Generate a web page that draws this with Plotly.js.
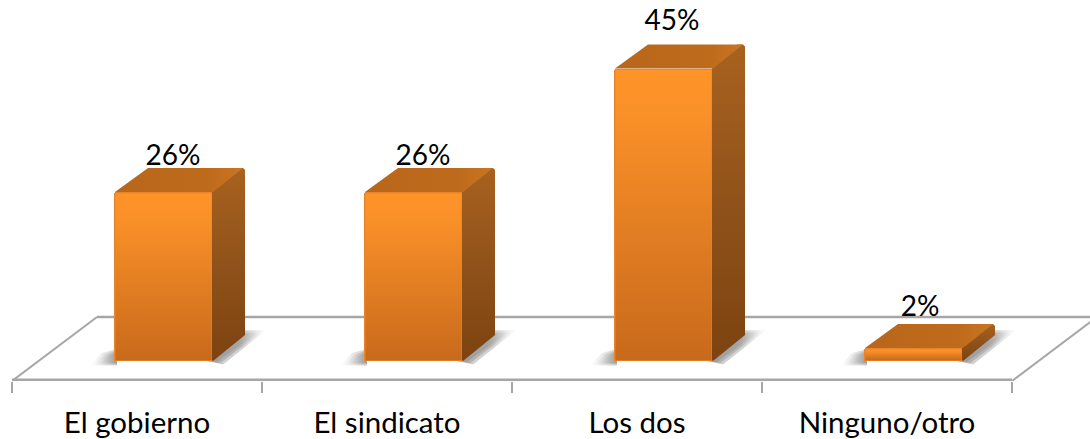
<!DOCTYPE html>
<html><head><meta charset="utf-8">
<script src="https://cdn.plot.ly/plotly-3.0.1.min.js"></script>
<style>html,body{margin:0;padding:0;background:#fff}</style></head>
<body><div id="chart" style="width:1090px;height:439px"></div>
<script>
const categories = ["El gobierno", "El sindicato", "Los dos", "Ninguno/otro"];
const values = [26, 26, 45, 2];
const labels = ["26%", "26%", "45%", "2%"];
const labelX = [0.144, 0.144, 0.14, 0.132];   // label offset from category centre
const labelY = [31.25, 31.25, 52.05, 8.05];   // label height on the value axis

const W = 250, H = 6.5;                       // pixels per category / per percent
const px = v => v / W, py = v => v / H;
const barLeft = px(-23), barW = px(99);
const depX = px(32), depY = py(24);
const floorDX = px(85), floorDY = py(64);
const floorFront = py(-20);
const floorL = -0.5, floorR = 3.5;
const xRange = [floorL, floorL + px(1078)], yRange = [floorFront, py(361)];

const grey = "#A6A6A6";
const traces = [];
const base = {type:"scatter", mode:"lines", hoverinfo:"skip", showlegend:false};

// floor
traces.push({...base, x:[floorL+floorDX, floorR+floorDX], y:[floorFront+floorDY, floorFront+floorDY], line:{color:grey, width:2.5}});
traces.push({...base, x:[floorL, floorL+floorDX], y:[floorFront, floorFront+floorDY], line:{color:grey, width:2}});
traces.push({...base, x:[floorR, floorR+floorDX], y:[floorFront, floorFront+floorDY], line:{color:grey, width:2}});
traces.push({...base, x:[floorL, floorR], y:[floorFront, floorFront], line:{color:grey, width:5}});

// soft shadows on the floor, built up from nested layers
values.forEach((v,i)=>{
  const l = i+barLeft, r = l+barW;
  [6,3,0].forEach(s=>{
    traces.push({...base, line:{width:0}, fill:"toself",
      x:[l-px(14+s*1.6), l+px(3), l+px(3), l-px(6+s)], y:[py(-2-s*0.4), py(-2-s*0.4), py(9+s*0.5), py(5+s*0.5)],
      fillgradient:{type:"horizontal", colorscale:[[0,"rgba(150,150,150,0)"],[1,"rgba(130,130,130,0.4)"]]}});
    traces.push({...base, line:{width:0}, fill:"toself",
      x:[r-px(6), r+depX, r+depX+px(12+s*1.6), r+px(4+s)], y:[py(0), depY+py(4+s*0.5), depY+py(4+s*0.5), py(-1-s*0.4)],
      fillgradient:{type:"horizontal", colorscale:[[0,"rgba(130,130,130,0.4)"],[0.6,"rgba(130,130,130,0.35)"],[1,"rgba(150,150,150,0)"]]}});
  });
});

// front faces: the bars themselves
traces.push({type:"bar", x:[0,1,2,3], y:values, width:barW, offset:barLeft,
  xaxis:"x2", yaxis:"y2", hoverinfo:"skip", showlegend:false,
  marker:{color:"#E8842A", cornerradius:3, line:{width:0}}});

values.forEach((v,i)=>{
  const l = i+barLeft, r = l+barW, t = v;
  const o = {...base, xaxis:"x2", yaxis:"y2"};
  // side face
  traces.push({...o, line:{width:0}, fill:"toself",
    x:[r-px(1), r, r+depX, r+depX, r+depX-px(2), r+depX-px(8), r-px(1)],
    y:[py(1), 0, depY+py(2), t+depY-py(2), t+depY, t+depY, t],
    fillgradient:{type:"vertical", colorscale:[[0,"#7C4310"],[0.5,"#90521A"],[1,"#A8621F"]]}});
  // top face
  traces.push({...o, line:{width:0}, fill:"toself",
    x:[l+px(1), r, r+depX-px(2), l+depX+px(2)], y:[t, t, t+depY, t+depY],
    fillgradient:{type:"horizontal", colorscale:[[0,"#B8661B"],[0.75,"#BF6B1C"],[1,"#C97622"]]}});
  // gradient on the front, inset so the rounded bar edge shows
  const e = px(1.5), f = py(1.5);
  traces.push({...o, line:{width:0}, fill:"toself",
    x:[l+e, r-e, r-e, l+e], y:[f*0.5, f*0.5, t-f, t-f],
    fillgradient:{type:"vertical", colorscale:[[0,"#C86A1C"],[0.85,"#FA9028"],[1,"#FF9428"]]}});
});

// value labels
traces.push({...base, xaxis:"x2", yaxis:"y2", mode:"text", cliponaxis:false,
  x:values.map((v,i)=>i+labelX[i]), y:labelY, text:labels, textposition:"middle center",
  textfont:{family:"Lato, sans-serif", size:28, color:"#000"}});

const layout = {
  width:1090, height:439, margin:{l:12, r:0, t:0, b:58},
  paper_bgcolor:"#fff", plot_bgcolor:"rgba(0,0,0,0)", showlegend:false, bargap:0,
  xaxis:{range:xRange, tickmode:"array", tickvals:[0,1,2,3], ticktext:categories,
    showgrid:false, zeroline:false, showline:false,
    ticks:"outside", ticklen:0, ticklabelstandoff:16,
    tickfont:{family:"Lato, sans-serif", size:29.5, color:"#000"},
    minor:{tickmode:"array", tickvals:[-0.5,0.5,1.5,2.5,3.5], ticks:"outside", ticklen:11, tickwidth:2, tickcolor:grey, showgrid:false}},
  yaxis:{range:yRange, visible:false, fixedrange:true},
  xaxis2:{range:xRange, overlaying:"x", anchor:"y2", visible:false},
  yaxis2:{range:yRange, overlaying:"y", anchor:"x2", visible:false}
};
Plotly.newPlot("chart", traces, layout, {displayModeBar:false, staticPlot:true});
</script></body></html>
